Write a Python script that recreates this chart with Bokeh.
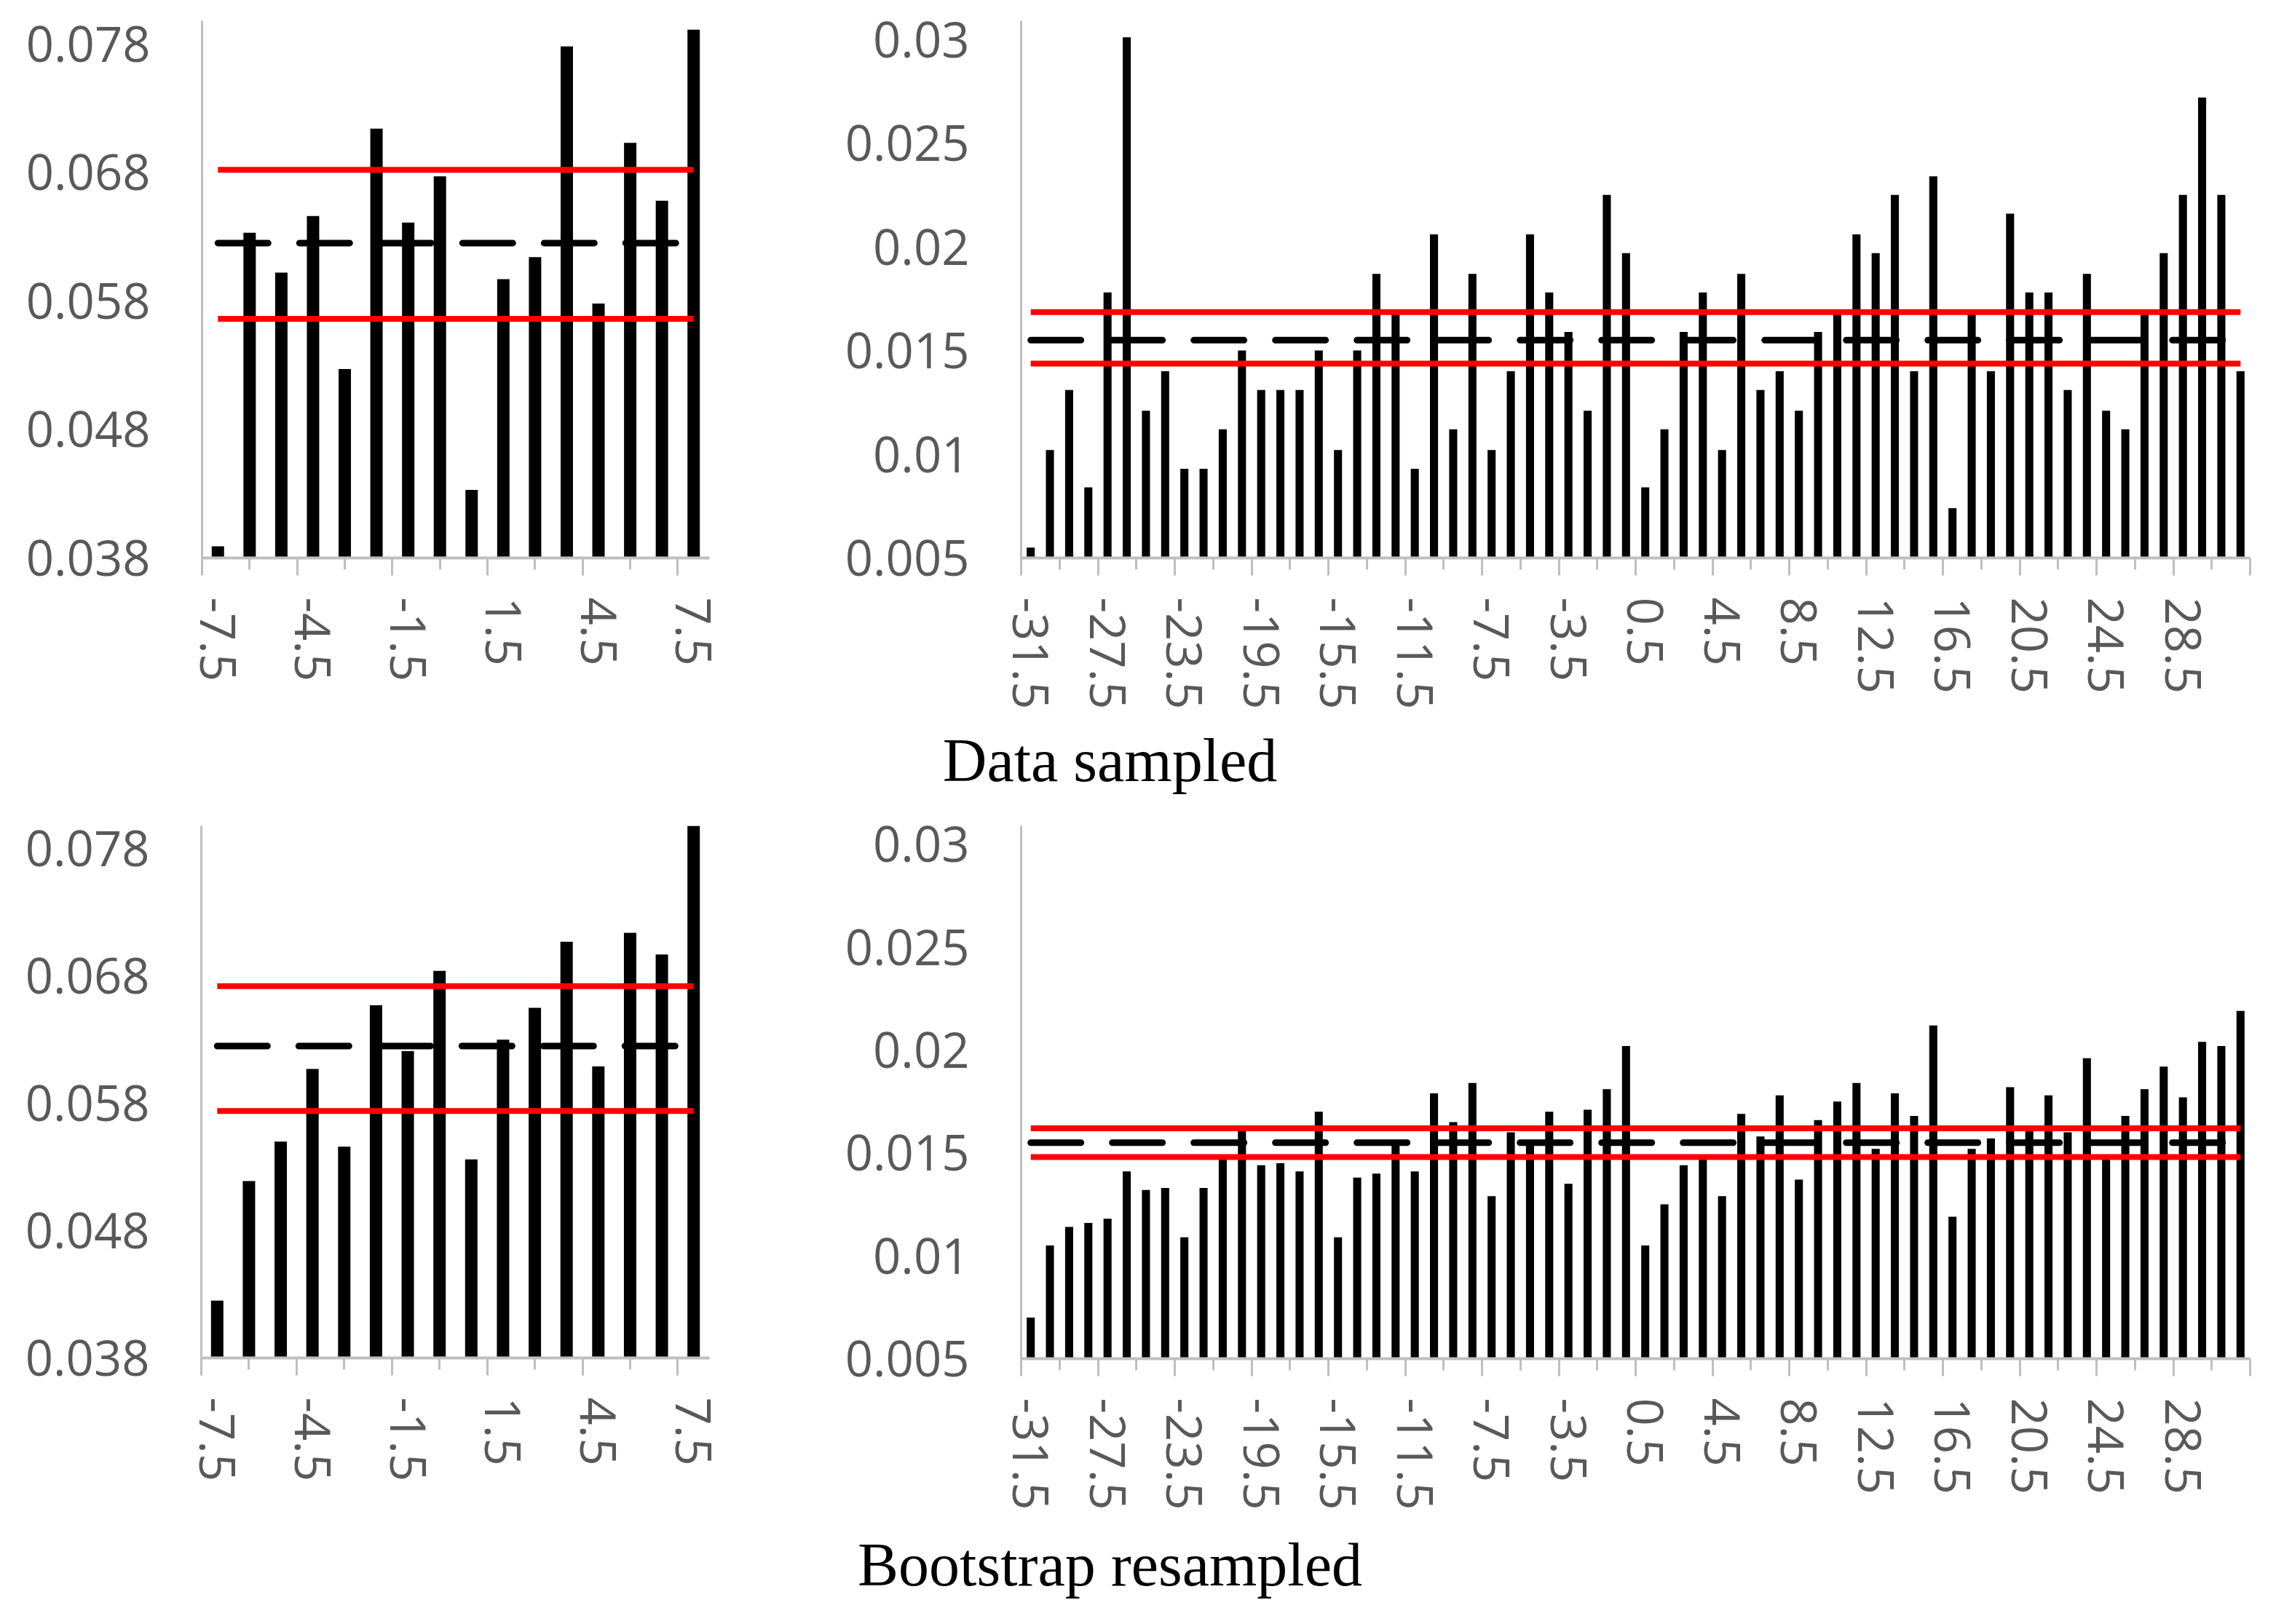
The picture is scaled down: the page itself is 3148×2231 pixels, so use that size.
import math
from bokeh.plotting import figure
from bokeh.models import Range1d, LinearAxis, FixedTicker
from bokeh.core.properties import value
from bokeh.layouts import column, row
from bokeh.embed import file_html
from bokeh.resources import INLINE

# ---------------- data ----------------
left_bins = [-7.5, -6.5, -5.5, -4.5, -3.5, -2.5, -1.5, -0.5,
             0.5, 1.5, 2.5, 3.5, 4.5, 5.5, 6.5, 7.5]

right_bins = [-31.5, -30.5, -29.5, -28.5, -27.5, -26.5, -25.5, -24.5,
              -23.5, -22.5, -21.5, -20.5, -19.5, -18.5, -17.5, -16.5,
              -15.5, -14.5, -13.5, -12.5, -11.5, -10.5, -9.5, -8.5,
              -7.5, -6.5, -5.5, -4.5, -3.5, -2.5, -1.5, -0.5,
              0.5, 1.5, 2.5, 3.5, 4.5, 5.5, 6.5, 7.5,
              8.5, 9.5, 10.5, 11.5, 12.5, 13.5, 14.5, 15.5,
              16.5, 17.5, 18.5, 19.5, 20.5, 21.5, 22.5, 23.5,
              24.5, 25.5, 26.5, 27.5, 28.5, 29.5, 30.5, 31.5]

sampled_left = [0.0389, 0.0633, 0.0602, 0.0646, 0.0527, 0.0714, 0.0641, 0.0677,
                0.0433, 0.0597, 0.0614, 0.0778, 0.0578, 0.0703, 0.0658, 0.0791]
sampled_left_upper = 0.0682
sampled_left_lower = 0.0566
sampled_left_mean = 0.0625

boot_left = [0.0425, 0.0519, 0.0550, 0.0607, 0.0546, 0.0657, 0.0621, 0.0684,
             0.0536, 0.0630, 0.0655, 0.0707, 0.0609, 0.0714, 0.0697, 0.0800]
boot_left_upper = 0.0672
boot_left_lower = 0.0574
boot_left_mean = 0.0625

sampled_right = [0.0055, 0.0102, 0.0131, 0.0084, 0.0178, 0.0301, 0.0121, 0.0140,
                 0.0093, 0.0093, 0.0112, 0.0150, 0.0131, 0.0131, 0.0131, 0.0150,
                 0.0102, 0.0150, 0.0187, 0.0168, 0.0093, 0.0206, 0.0112, 0.0187,
                 0.0102, 0.0140, 0.0206, 0.0178, 0.0159, 0.0121, 0.0225, 0.0197,
                 0.0084, 0.0112, 0.0159, 0.0178, 0.0102, 0.0187, 0.0131, 0.0140,
                 0.0121, 0.0159, 0.0168, 0.0206, 0.0197, 0.0225, 0.0140, 0.0234,
                 0.0074, 0.0168, 0.0140, 0.0216, 0.0178, 0.0178, 0.0131, 0.0187,
                 0.0121, 0.0112, 0.0168, 0.0197, 0.0225, 0.0272, 0.0225, 0.0140]
sampled_right_upper = 0.01685
sampled_right_lower = 0.01437
sampled_right_mean = 0.0155

boot_right = [0.0070, 0.0105, 0.0114, 0.0116, 0.0118, 0.0141, 0.0132, 0.0133,
              0.0109, 0.0133, 0.0147, 0.0161, 0.0144, 0.0145, 0.0141, 0.0170,
              0.0109, 0.0138, 0.0140, 0.0154, 0.0141, 0.0179, 0.0165, 0.0184,
              0.0129, 0.0160, 0.0154, 0.0170, 0.0135, 0.0171, 0.0181, 0.0202,
              0.0105, 0.0125, 0.0144, 0.0147, 0.0129, 0.0169, 0.0158, 0.0178,
              0.0137, 0.0166, 0.0175, 0.0184, 0.0152, 0.0179, 0.0168, 0.0212,
              0.0119, 0.0152, 0.0157, 0.0182, 0.0161, 0.0178, 0.0160, 0.0196,
              0.0147, 0.0168, 0.0181, 0.0192, 0.0177, 0.0204, 0.0202, 0.0219]
boot_right_upper = 0.0162
boot_right_lower = 0.0148
boot_right_mean = 0.0155

left_y_ticks = [0.038, 0.048, 0.058, 0.068, 0.078]
left_y_labels = ["0.038", "0.048", "0.058", "0.068", "0.078"]
right_y_ticks = [0.005, 0.01, 0.015, 0.02, 0.025, 0.03]
right_y_labels = ["0.005", "0.01", "0.015", "0.02", "0.025", "0.03"]

left_x_label_ticks = [-7.5, -4.5, -1.5, 1.5, 4.5, 7.5]
left_x_labels = ["-7.5", "-4.5", "-1.5", "1.5", "4.5", "7.5"]
right_x_label_ticks = [-31.5, -27.5, -23.5, -19.5, -15.5, -11.5, -7.5, -3.5,
                       0.5, 4.5, 8.5, 12.5, 16.5, 20.5, 24.5, 28.5]
right_x_labels = ["-31.5", "-27.5", "-23.5", "-19.5", "-15.5", "-11.5", "-7.5", "-3.5",
                  "0.5", "4.5", "8.5", "12.5", "16.5", "20.5", "24.5", "28.5"]

left_major_ticks = [-8, -5, -2, 1, 4, 7]
left_minor_ticks = [-6.5, -3.5, -0.5, 2.5, 5.5]
right_major_ticks = [-32, -28, -24, -20, -16, -12, -8, -4, 0, 4, 8, 12, 16, 20, 24, 28, 32]
right_minor_ticks = [-30, -26, -22, -18, -14, -10, -6, -2, 2, 6, 10, 14, 18, 22, 26, 30]

titles = ["Data sampled", "Bootstrap resampled"]

# ---------------- style ----------------
AXIS_GRAY = "#bfbfbf"
LABEL_GRAY = "#595959"
TICK_FONT = "Open Sans"
TICK_SIZE = "67px"
PAGE_W = 3122


def hide_grids(p):
    for g in p.xgrid + p.ygrid:
        g.visible = False


def make_panel(bins, vals, upper, lower, mean, y_range, y_ticks, y_labels,
               major_ticks, minor_ticks, label_ticks, labels,
               frame_w, frame_h, borders, bar_width):
    bl, br, bt, bb = borders
    p = figure(frame_width=frame_w, frame_height=frame_h,
               x_range=Range1d(bins[0] - 0.5, bins[-1] + 0.5),
               y_range=Range1d(*y_range),
               x_axis_location=None, y_axis_location=None,
               toolbar_location=None, output_backend="svg",
               min_border_left=bl, min_border_right=br,
               min_border_top=bt, min_border_bottom=bb)
    p.outline_line_color = None
    p.background_fill_color = "white"
    p.border_fill_color = "white"
    hide_grids(p)

    # y axis
    yax = LinearAxis(ticker=FixedTicker(ticks=y_ticks, minor_ticks=[]))
    yax.major_label_overrides = {t: s for t, s in zip(y_ticks, y_labels)}
    yax.axis_line_color = AXIS_GRAY
    yax.axis_line_width = 3
    yax.major_tick_out = 0
    yax.major_tick_in = 0
    yax.minor_tick_out = 0
    yax.minor_tick_in = 0
    yax.major_label_standoff = 71
    yax.major_label_text_font = TICK_FONT
    yax.major_label_text_font_size = TICK_SIZE
    yax.major_label_text_color = LABEL_GRAY
    p.add_layout(yax, "left")

    # x axis: tick marks only
    xa = LinearAxis(ticker=FixedTicker(ticks=major_ticks, minor_ticks=minor_ticks))
    xa.major_label_overrides = {t: "" for t in major_ticks}
    xa.major_label_text_font_size = "0px"
    xa.major_label_standoff = 0
    xa.axis_line_color = AXIS_GRAY
    xa.axis_line_width = 4
    xa.major_tick_line_color = AXIS_GRAY
    xa.major_tick_line_width = 3
    xa.major_tick_out = 24
    xa.major_tick_in = 0
    xa.minor_tick_line_color = AXIS_GRAY
    xa.minor_tick_line_width = 3
    xa.minor_tick_out = 16
    xa.minor_tick_in = 0
    p.add_layout(xa, "below")

    # x axis: labels only
    xb = LinearAxis(ticker=FixedTicker(ticks=label_ticks, minor_ticks=[]))
    xb.major_label_overrides = {t: s for t, s in zip(label_ticks, labels)}
    xb.axis_line_color = None
    xb.major_tick_line_color = None
    xb.minor_tick_line_color = None
    xb.major_tick_out = 0
    xb.major_tick_in = 0
    xb.minor_tick_out = 0
    xb.minor_tick_in = 0
    xb.major_label_orientation = -math.pi / 2
    xb.major_label_standoff = 30
    xb.major_label_text_font = TICK_FONT
    xb.major_label_text_font_size = TICK_SIZE
    xb.major_label_text_color = LABEL_GRAY
    p.add_layout(xb, "below")

    p.vbar(x=bins, top=vals, bottom=y_range[0], width=bar_width,
           fill_color="black", line_color=None)

    x_ends = [bins[0], bins[-1]]
    p.line(x=x_ends, y=[upper, upper], line_color="#ff0000", line_width=8)
    p.line(x=x_ends, y=[lower, lower], line_color="#ff0000", line_width=8)
    p.line(x=x_ends, y=[mean, mean], line_color="black", line_width=9,
           line_dash="69 43", line_cap="round")
    return p


def make_title(text, height, cx, baseline_from_bottom):
    # pixel-unit ranges so that text is placed in screen pixels
    p = figure(frame_width=PAGE_W, frame_height=height,
               x_range=Range1d(0, PAGE_W), y_range=Range1d(0, height),
               x_axis_location=None, y_axis_location=None,
               toolbar_location=None, output_backend="svg",
               min_border_left=0, min_border_right=0,
               min_border_top=0, min_border_bottom=0)
    p.outline_line_color = None
    hide_grids(p)
    p.text(x=[cx], y=[baseline_from_bottom], text=[text],
           text_align="center", text_baseline="alphabetic",
           text_font=value("Liberation Serif"), text_font_size=value("84px"),
           text_color="black")
    return p


LEFT_RANGE = (0.038, 0.0798)
RIGHT_RANGE = (0.005, 0.0309)

tl = make_panel(left_bins, sampled_left, sampled_left_upper, sampled_left_lower,
                sampled_left_mean, LEFT_RANGE, left_y_ticks, left_y_labels,
                left_major_ticks, left_minor_ticks, left_x_label_ticks, left_x_labels,
                697, 738, (277, 148, 27, 227), 0.39)
tr = make_panel(right_bins, sampled_right, sampled_right_upper, sampled_right_lower,
                sampled_right_mean, RIGHT_RANGE, right_y_ticks, right_y_labels,
                right_major_ticks, right_minor_ticks, right_x_label_ticks, right_x_labels,
                1688, 738, (280, 32, 28, 226), 0.42)
bl = make_panel(left_bins, boot_left, boot_left_upper, boot_left_lower,
                boot_left_mean, LEFT_RANGE, left_y_ticks, left_y_labels,
                left_major_ticks, left_minor_ticks, left_x_label_ticks, left_x_labels,
                698, 731, (276, 148, 33, 228), 0.39)
br = make_panel(right_bins, boot_right, boot_right_upper, boot_right_lower,
                boot_right_mean, RIGHT_RANGE, right_y_ticks, right_y_labels,
                right_major_ticks, right_minor_ticks, right_x_label_ticks, right_x_labels,
                1688, 732, (280, 32, 34, 226), 0.42)

t1 = make_title(titles[0], 108, 1524, 56)
t2 = make_title(titles[1], 115, 1524, 58)

layout = column(row(tl, tr), t1, row(bl, br), t2)

open("out.html", "w").write(file_html(layout, INLINE))
